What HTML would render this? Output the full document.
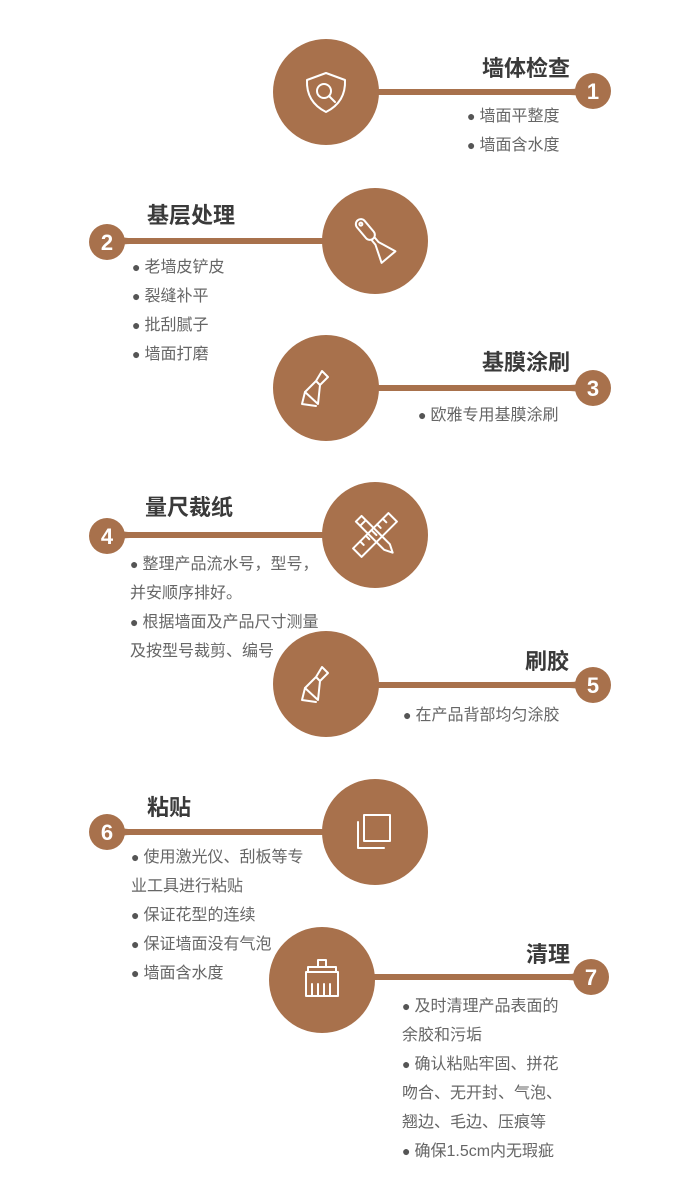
<!DOCTYPE html>
<html><head><meta charset="utf-8"><style>
body{margin:0;width:700px;height:1200px;background:#fff;position:relative;overflow:hidden;font-family:"Liberation Sans","Noto Sans CJK SC",sans-serif}
.t{position:absolute;font-size:22px;font-weight:bold;color:#3a3a3a;white-space:nowrap;line-height:26px}
.b{position:absolute;font-size:16px;color:#666;white-space:nowrap;line-height:29px}
.b i{font-style:normal;color:#555;font-size:14px;margin-right:4px}
svg{position:absolute;left:0;top:0}
.ic{fill:none;stroke:#fff;stroke-width:2;stroke-linecap:round;stroke-linejoin:round}
</style></head><body>
<svg width="700" height="1200">
<g fill="#a8714c">
<rect x="326" y="89" width="262" height="6"/><path d="M570 89 Q585 89 590 78 L600 100 Q585 95 570 95Z"/><circle cx="593" cy="91" r="18"/><circle cx="326" cy="92" r="53"/>
<rect x="110" y="238" width="265" height="6"/><path d="M130 238 Q115 238 110 227 L100 253 Q115 244 130 244Z"/><circle cx="107" cy="242" r="18"/><circle cx="375" cy="241" r="53"/>
<rect x="326" y="385" width="262" height="6"/><path d="M570 385 Q585 385 590 374 L600 398 Q585 391 570 391Z"/><circle cx="593" cy="388" r="18"/><circle cx="326" cy="388" r="53"/>
<rect x="110" y="532" width="265" height="6"/><path d="M130 532 Q115 532 110 521 L100 547 Q115 538 130 538Z"/><circle cx="107" cy="536" r="18"/><circle cx="375" cy="535" r="53"/>
<rect x="326" y="682" width="262" height="6"/><path d="M570 682 Q585 682 590 671 L600 695 Q585 688 570 688Z"/><circle cx="593" cy="685" r="18"/>
<rect x="110" y="829" width="265" height="6"/><path d="M130 829 Q115 829 110 818 L100 844 Q115 835 130 835Z"/><circle cx="107" cy="832" r="18"/><circle cx="375" cy="832" r="53"/>
<rect x="322" y="974" width="264" height="6"/><path d="M568 974 Q583 974 588 963 L598 987 Q583 980 568 980Z"/><circle cx="591" cy="977" r="18"/><circle cx="322" cy="980" r="53"/>
</g>
<g font-family="Liberation Sans" font-weight="bold" font-size="22" fill="#fff" text-anchor="middle">
<text x="593" y="99">1</text><text x="107" y="250">2</text><text x="593" y="396">3</text><text x="107" y="544">4</text><text x="593" y="693">5</text><text x="107" y="840">6</text><text x="591" y="985">7</text>
</g>
<g class="ic">
<path d="M326 73 L345 80 Q346 102 326 112 Q306 102 307 80Z"/><circle cx="324" cy="91" r="7"/><path d="M329 96 L335 102"/>
<g transform="rotate(-40 375 241)">
<rect x="370" y="214" width="10" height="24" rx="5"/><circle cx="375" cy="219" r="1.5"/><path d="M373 238 L373 244 L366 262 L384 262 L377 244 L377 238"/>
</g>
<g transform="rotate(45 375 535)">
<rect x="369" y="510" width="12" height="50"/><path d="M369 518 h5 M369 526 h5 M369 534 h7 M369 542 h5 M369 550 h5"/>
</g>
<g transform="rotate(-45 375 535)">
<path d="M371 512 L379 512 L379 552 L375 560 L371 552Z M371 518 L379 518"/>
</g>
<path d="M322 371 L328 377 L320 385 L316 381Z M316 381 L305 392 L318 404 L320 385"/><path d="M305 392 L302 404 L316 406"/>
<rect x="364" y="815" width="26" height="26"/><path d="M358 822 L358 848 L384 848"/>
<path d="M308 967 L336 967 L336 972 L308 972Z M318 967 L318 960 L326 960 L326 967 M306 972 L338 972 L338 996 L306 996Z M312 984 L312 996 M318 984 L318 996 M324 984 L324 996 M330 984 L330 996"/>
</g>
</svg>
<div class="t" style="right:130px;top:56px">墙体检查</div>
<div class="b" style="left:467px;top:102px"><i>●</i>墙面平整度<br><i>●</i>墙面含水度</div>
<div class="t" style="left:147px;top:203px">基层处理</div>
<div class="b" style="left:132px;top:253px"><i>●</i>老墙皮铲皮<br><i>●</i>裂缝补平<br><i>●</i>批刮腻子<br><i>●</i>墙面打磨</div>
<div class="t" style="right:130px;top:350px">基膜涂刷</div>
<div class="b" style="left:418px;top:401px"><i>●</i>欧雅专用基膜涂刷</div>
<div class="t" style="left:145px;top:495px">量尺裁纸</div>
<div class="b" style="left:130px;top:550px"><i>●</i>整理产品流水号，型号，<br>并安顺序排好。<br><i>●</i>根据墙面及产品尺寸测量<br>及按型号裁剪、编号</div>
<div class="t" style="right:131px;top:649px">刷胶</div>
<div class="b" style="left:403px;top:701px"><i>●</i>在产品背部均匀涂胶</div>
<div class="t" style="left:147px;top:795px">粘贴</div>
<div class="b" style="left:131px;top:843px"><i>●</i>使用激光仪、刮板等专<br>业工具进行粘贴<br><i>●</i>保证花型的连续<br><i>●</i>保证墙面没有气泡<br><i>●</i>墙面含水度</div>
<div class="t" style="right:130px;top:942px">清理</div>
<div class="b" style="left:402px;top:992px"><i>●</i>及时清理产品表面的<br>余胶和污垢<br><i>●</i>确认粘贴牢固、拼花<br>吻合、无开封、气泡、<br>翘边、毛边、压痕等<br><i>●</i>确保1.5cm内无瑕疵</div>
<svg width="700" height="1200">
<circle cx="326" cy="684" r="53" fill="#a8714c"/>
<g class="ic"><path d="M322 667 L328 673 L320 681 L316 677Z M316 677 L305 688 L318 700 L320 681"/><path d="M305 688 L302 700 L316 702"/></g>
</svg>
</body></html>
